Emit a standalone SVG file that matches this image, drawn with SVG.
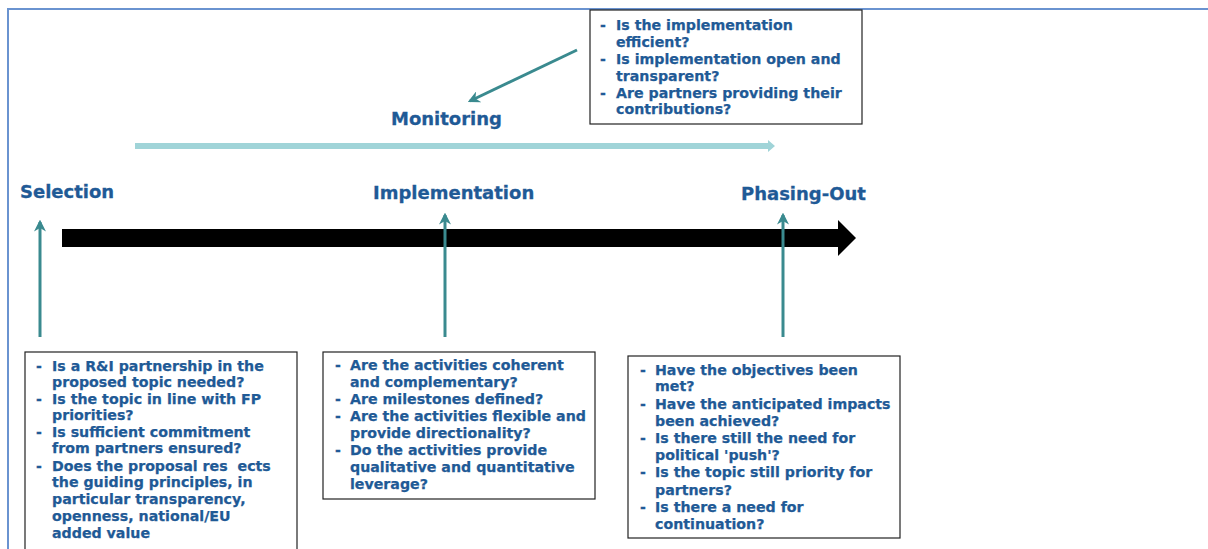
<svg xmlns="http://www.w3.org/2000/svg" width="1208" height="549" viewBox="0 0 1208 549">
<style>
.lbl{font-family:"DejaVu Sans",Verdana,sans-serif;font-weight:bold;font-size:18px;fill:#1F5A96;stroke:#1F5A96;stroke-width:0.3}
.q{font-family:"DejaVu Sans",Verdana,sans-serif;font-weight:bold;font-size:14.2px;fill:#1F5A96;stroke:#1F5A96;stroke-width:0.25}
.box{fill:#fff;stroke:#222;stroke-width:1.2}
.teal{stroke:#3A8A8F;stroke-width:3;fill:none}
</style>
<defs>
<marker id="ah" viewBox="0 0 10 10" refX="8" refY="5" markerWidth="4" markerHeight="4" orient="auto" markerUnits="strokeWidth">
<path d="M0,0 L10,5 L0,10 L3,5 z" fill="#3A8A8F"/>
</marker>
</defs>
<rect width="1208" height="549" fill="#fff"/>
<g id="frame">
<path d="M8,549 V9 H1208" fill="none" stroke="#6A93D0" stroke-width="2"/>
</g>
<g id="connectors">
<path d="M62,229 H838 V220 L856,238 L838,256 V247 H62 z" fill="#000"/>
<path d="M135,143 H768 V140 L775,146 L768,152 V149 H135 z" fill="#A0D4D8"/>
<line class="teal" x1="40" y1="337" x2="40" y2="222" marker-end="url(#ah)"/>
<line class="teal" x1="445" y1="337" x2="445" y2="215" marker-end="url(#ah)"/>
<line class="teal" x1="783" y1="337" x2="783" y2="215" marker-end="url(#ah)"/>
<line class="teal" x1="577" y1="50" x2="470" y2="101" marker-end="url(#ah)"/>
</g>
<g id="labels">
<text class="lbl" x="391" y="125">Monitoring</text>
<text class="lbl" x="20" y="198">Selection</text>
<text class="lbl" x="373" y="199">Implementation</text>
<text class="lbl" x="741" y="200">Phasing-Out</text>
</g>
<g id="monitoring-box">
<rect class="box" x="590" y="10" width="272" height="114"/>
<text class="q"><tspan x="600" y="30">-</tspan><tspan x="616" y="30">Is the implementation</tspan><tspan x="616" y="47">efficient?</tspan><tspan x="600" y="64">-</tspan><tspan x="616" y="64">Is implementation open and</tspan><tspan x="616" y="81">transparent?</tspan><tspan x="600" y="98">-</tspan><tspan x="616" y="98">Are partners providing their</tspan><tspan x="616" y="114">contributions?</tspan></text>
</g>
<g id="selection-box">
<rect class="box" x="25" y="352" width="272" height="200"/>
<text class="q"><tspan x="36" y="371">-</tspan><tspan x="52" y="371">Is a R&amp;I partnership in the</tspan><tspan x="52" y="387">proposed topic needed?</tspan><tspan x="36" y="404">-</tspan><tspan x="52" y="404">Is the topic in line with FP</tspan><tspan x="52" y="420">priorities?</tspan><tspan x="36" y="437">-</tspan><tspan x="52" y="437">Is sufficient commitment</tspan><tspan x="52" y="453">from partners ensured?</tspan><tspan x="36" y="471">-</tspan><tspan x="52" y="471">Does the proposal res&#160;&#160;ects</tspan><tspan x="52" y="487">the guiding principles, in</tspan><tspan x="52" y="504">particular transparency,</tspan><tspan x="52" y="521">openness, national/EU</tspan><tspan x="52" y="538">added value</tspan></text>
</g>
<g id="implementation-box">
<rect class="box" x="323" y="352" width="272" height="147"/>
<text class="q"><tspan x="335" y="370">-</tspan><tspan x="350" y="370">Are the activities coherent</tspan><tspan x="350" y="387">and complementary?</tspan><tspan x="335" y="404">-</tspan><tspan x="350" y="404">Are milestones defined?</tspan><tspan x="335" y="421">-</tspan><tspan x="350" y="421">Are the activities flexible and</tspan><tspan x="350" y="438">provide directionality?</tspan><tspan x="335" y="455">-</tspan><tspan x="350" y="455">Do the activities provide</tspan><tspan x="350" y="472">qualitative and quantitative</tspan><tspan x="350" y="489">leverage?</tspan></text>
</g>
<g id="phasing-box">
<rect class="box" x="628" y="356" width="272" height="182"/>
<text class="q"><tspan x="640" y="375">-</tspan><tspan x="655" y="375">Have the objectives been</tspan><tspan x="655" y="391">met?</tspan><tspan x="640" y="409">-</tspan><tspan x="655" y="409">Have the anticipated impacts</tspan><tspan x="655" y="426">been achieved?</tspan><tspan x="640" y="443">-</tspan><tspan x="655" y="443">Is there still the need for</tspan><tspan x="655" y="460">political 'push'?</tspan><tspan x="640" y="477">-</tspan><tspan x="655" y="477">Is the topic still priority for</tspan><tspan x="655" y="495">partners?</tspan><tspan x="640" y="512">-</tspan><tspan x="655" y="512">Is there a need for</tspan><tspan x="655" y="529">continuation?</tspan></text>
</g>
</svg>
